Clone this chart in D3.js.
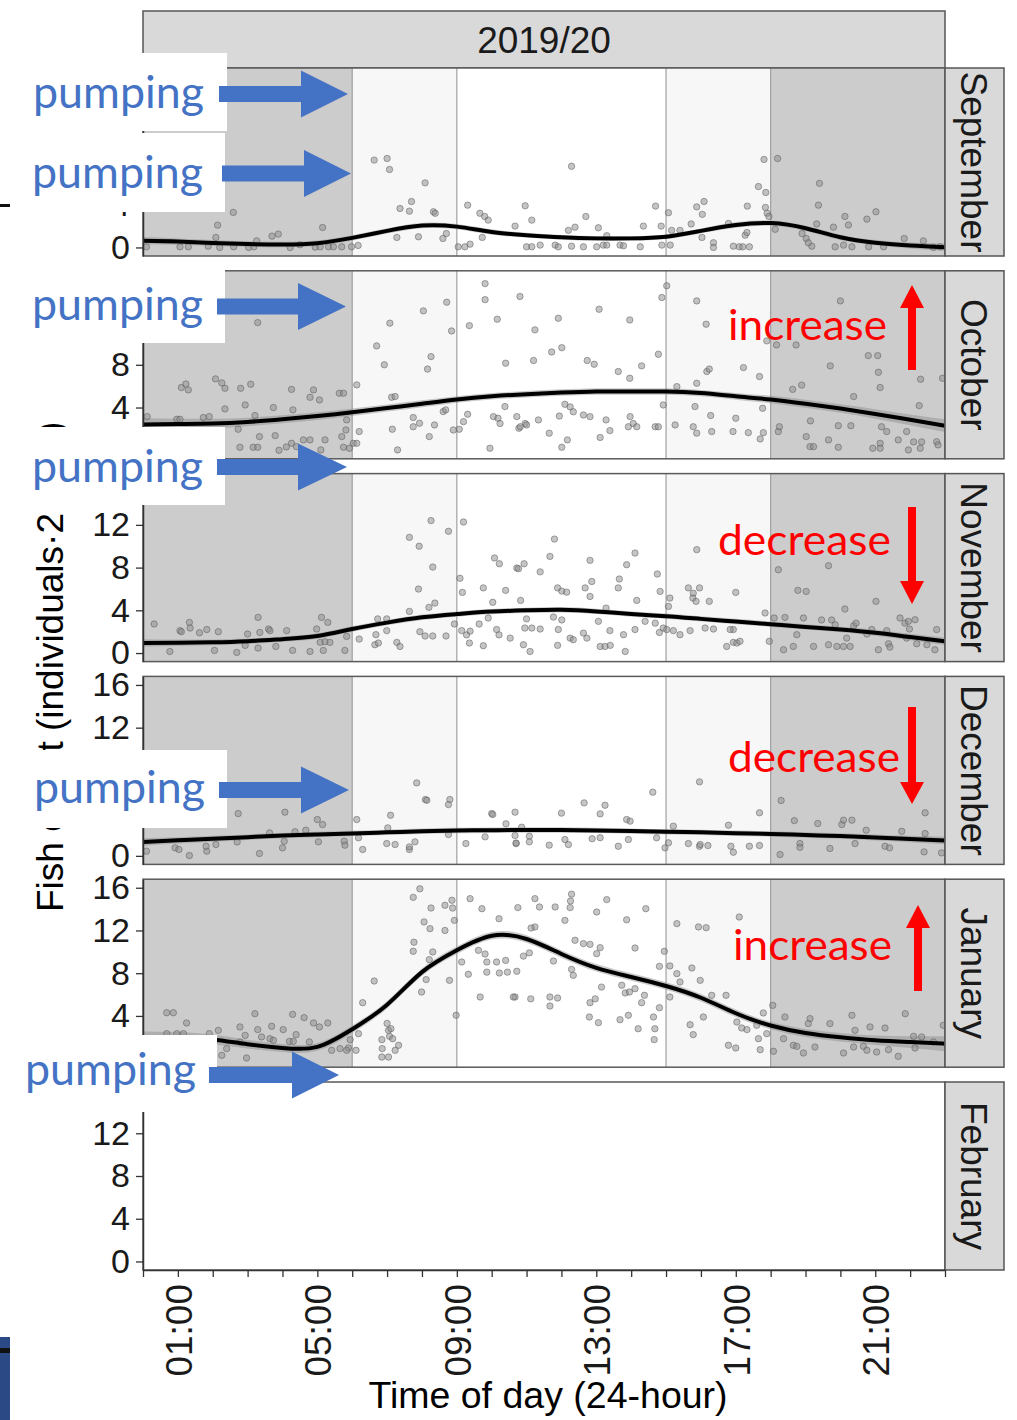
<!DOCTYPE html>
<html><head><meta charset="utf-8">
<script src="https://cdn.jsdelivr.net/npm/d3@7"></script>
<style>body{margin:0;background:#fff;} svg{display:block;}</style>
</head><body>
<svg id="c" width="1017" height="1420"></svg>
<script>
// ---------------- DATA ----------------
const months = ["September","October","November","December","January","February"];
const stripTitle = "2019/20";
const fitHours = d3.range(0, 24);
const xTickHours = d3.range(0, 24);
const xLabelHours = [1,5,9,13,17,21];
const yTicks = [0,4,8,12,16];
const periodBounds = [[0,6],[6,9],[9,15],[15,18],[18,23]];
const periodShade = ["#cccccc","#f7f7f7","#ffffff","#f7f7f7","#cccccc"];
const periodLines = [6,9,15,18];

const fitSep = [0.62,0.55,0.42,0.32,0.28,0.4,0.9,1.55,2.05,1.95,1.45,1.15,0.95,0.85,0.85,1.0,1.55,2.1,2.28,1.8,0.95,0.45,0.18,0.02];
const fitOct = [2.4,2.45,2.5,2.65,2.9,3.2,3.55,3.95,4.35,4.75,5.05,5.25,5.4,5.5,5.5,5.5,5.35,5.05,4.75,4.35,3.9,3.4,2.85,2.3];
const fitNov = [0.95,0.97,1.0,1.1,1.3,1.6,2.25,2.85,3.35,3.65,3.88,4.0,4.05,3.9,3.65,3.45,3.2,2.95,2.7,2.45,2.2,1.9,1.5,1.1];
const fitDec = [1.3,1.45,1.6,1.75,1.9,2.0,2.1,2.2,2.3,2.37,2.4,2.42,2.42,2.38,2.32,2.25,2.2,2.12,2.05,1.95,1.85,1.72,1.58,1.44];
const fitJan = [1.95,2.0,1.8,1.35,1.0,1.1,2.75,5.05,8.1,10.15,11.5,11.2,9.8,8.5,7.65,6.8,5.7,4.25,3.1,2.4,2.0,1.72,1.55,1.4];

const seSep = [0.35,0.3,0.28,0.26,0.25,0.25,0.25,0.25,0.25,0.25,0.25,0.22,0.22,0.22,0.22,0.22,0.22,0.25,0.25,0.25,0.25,0.25,0.28,0.35];
const seOct = [0.6,0.5,0.45,0.4,0.38,0.36,0.35,0.33,0.32,0.3,0.3,0.3,0.3,0.3,0.3,0.3,0.3,0.32,0.35,0.38,0.4,0.45,0.5,0.6];
const seNov = [0.35,0.3,0.28,0.26,0.25,0.25,0.25,0.25,0.25,0.25,0.25,0.25,0.25,0.25,0.25,0.25,0.25,0.25,0.25,0.25,0.26,0.28,0.3,0.35];
const seDec = [0.35,0.3,0.28,0.26,0.25,0.25,0.25,0.25,0.25,0.25,0.25,0.25,0.25,0.25,0.25,0.25,0.25,0.25,0.25,0.25,0.26,0.28,0.3,0.35];
const seJan = [0.6,0.5,0.45,0.4,0.38,0.36,0.35,0.35,0.35,0.35,0.35,0.35,0.35,0.35,0.35,0.35,0.35,0.35,0.35,0.38,0.4,0.45,0.55,0.7];

const ptsSep = [[0.1,0.06],[1.06,0.06],[1.3,0.06],[1.87,0.12],[2.14,2.09],[2.09,0.94],[2.2,0],[2.59,3.28],[2.6,0.06],[3.03,0],[3.26,0.62],[3.18,0.06],[3.7,1.06],[3.88,1.25],[4.22,0],[4.5,0.25],[4.94,0.03],[5.15,1.87],[5.08,0.06],[5.32,0.06],[5.46,0.06],[5.7,0.06],[5.98,0.06],[6.17,0.19],[6.63,8.18],[7.0,8.33],[7.07,7.3],[8.09,6.05],[7.7,4.3],[7.37,3.65],[7.64,3.4],[8.33,3.34],[8.38,3.2],[7.28,0.94],[7.9,1.0],[8.6,0.84],[8.7,1.3],[9.04,0.06],[9.23,0.06],[9.38,0.31],[9.31,3.96],[9.66,3.2],[9.8,2.9],[9.9,2.56],[9.73,0.94],[10.67,2.0],[10.96,3.9],[11.15,2.56],[11.0,0.06],[11.15,0.06],[11.39,0.22],[11.82,0.22],[11.91,0.06],[12.29,0.12],[12.63,0.06],[13.01,0.06],[13.2,0.22],[13.3,0.22],[13.68,0.22],[13.78,0.16],[14.26,0.06],[14.88,0.22],[15.12,0.22],[12.29,7.6],[12.2,1.6],[12.39,1.9],[12.7,2.9],[13.06,1.84],[13.3,1.1],[14.35,2.0],[14.7,3.87],[14.86,2.0],[15.07,3.25],[15.16,1.6],[15.4,1.6],[15.72,2.2],[15.88,3.8],[16.09,4.3],[16.04,3.1],[16.03,0.94],[16.36,0.44],[16.36,0],[17.1,0.06],[17.2,0.06],[17.39,0.06],[16.93,0.12],[16.79,2.25],[17.33,3.87],[17.27,1.15],[17.32,1.4],[17.65,5.7],[17.86,5.15],[17.81,8.24],[18.2,8.33],[17.85,3.75],[17.9,3.2],[17.95,2.9],[18.13,1.7],[19.4,6.0],[19.37,3.96],[19.32,2.2],[18.9,1.3],[19.02,0.84],[19.18,0.12],[19.08,0.44],[19.8,1.9],[20.13,2.9],[20.23,2.1],[19.85,0.06],[20.09,0.22],[20.33,0.06],[20.76,2.65],[21.02,3.34],[20.81,0.06],[21.24,0.06],[21.83,0.84],[22.38,0.62],[22.67,0],[22.86,0.06]];

const ptsOct = [[0.12,3.15],[0.97,2.9],[1.06,2.9],[1.73,3.06],[1.9,3.15],[1.1,5.87],[1.23,6.2],[1.3,5.65],[2.08,6.68],[2.26,6.3],[2.35,5.8],[2.35,3.87],[2.8,5.8],[3.09,6.18],[2.93,4.24],[3.21,3.25],[3.29,11.95],[2.73,1.97],[3.34,1.28],[2.78,0.28],[3.16,0.28],[3.29,0.28],[3.74,4.0],[3.79,1.37],[3.9,0],[4.11,0.31],[4.26,0.65],[4.4,0.34],[4.26,5.7],[4.3,3.78],[4.79,4.96],[4.89,5.65],[5.06,4.71],[4.6,0.97],[4.79,0.97],[5.22,0.97],[5.1,0.03],[5.63,5.34],[5.75,5.34],[5.7,1.28],[5.82,1.9],[5.84,2.84],[5.75,0.28],[5.92,0.19],[6.03,0.65],[6.13,6.12],[6.2,1.75],[6.13,0.65],[6.7,9.77],[6.92,8.0],[7.08,11.9],[7.13,4.96],[7.23,5.03],[7.15,1.97],[7.3,0.03],[7.75,3.06],[7.93,2.53],[7.75,2.2],[8.04,13.05],[8.16,7.6],[8.26,8.77],[8.21,1.28],[8.36,2.37],[8.71,13.86],[8.61,3.62],[8.68,3.78],[8.85,11.17],[8.9,1.9],[9.07,1.97],[9.19,2.68],[9.31,3.37],[9.36,11.67],[9.81,15.6],[9.81,14.1],[9.95,0.19],[10.05,3.15],[10.18,3.0],[10.24,2.5],[10.16,12.27],[10.4,8.15],[10.38,4.09],[10.72,3.15],[10.78,2.06],[10.81,14.4],[10.82,2.2],[10.96,2.5],[11.0,2.37],[11.24,11.27],[11.2,8.4],[11.34,2.84],[11.65,1.6],[11.72,9.2],[12.01,9.6],[11.91,12.36],[11.94,3.2],[12.01,0.28],[12.17,0.97],[12.1,4.3],[12.25,4.06],[12.34,3.6],[12.63,3.3],[12.82,3.15],[12.74,8.4],[12.94,8.05],[13.08,13.2],[13.11,1.2],[13.28,2.84],[13.39,1.84],[13.63,7.37],[13.92,2.2],[14.06,2.5],[14.16,2.2],[13.97,3.15],[13.96,12.2],[13.96,6.74],[14.3,7.9],[14.78,8.99],[14.69,2.2],[14.78,2.2],[14.92,4.24],[14.88,14.3],[15.02,15.4],[15.26,2.37],[15.31,5.96],[15.83,4.09],[15.88,6.27],[15.78,2.2],[15.88,1.6],[15.88,13.98],[16.15,11.8],[16.17,7.37],[16.24,7.6],[16.28,3.25],[16.31,1.75],[16.92,1.75],[17.0,3.0],[17.36,1.65],[17.22,7.74],[17.68,6.9],[17.7,1.06],[17.77,3.93],[17.79,1.65],[17.89,10.24],[18.22,1.75],[18.17,9.86],[18.25,2.2],[18.63,5.7],[18.89,6.1],[18.73,9.86],[19.02,1.28],[19.13,0.34],[19.23,0.34],[19.14,2.75],[19.66,0.97],[19.94,0.28],[19.71,7.9],[19.94,2.3],[20.3,2.3],[20.0,13.98],[20.38,5.03],[20.8,8.86],[21.07,8.86],[21.09,7.3],[21.14,5.87],[21.18,2.2],[21.33,1.75],[21.14,0.65],[20.93,0.19],[21.14,0.19],[21.66,0.97],[21.9,1.75],[21.95,0.03],[22.1,0.78],[22.33,0.78],[22.29,0.19],[22.3,6.65],[22.26,4.18],[22.76,0.8],[22.8,0.5],[22.93,6.74]];

const ptsNov = [[0.32,2.72],[0.77,0.15],[1.06,2.1],[1.1,2.0],[1.33,2.87],[1.35,2.34],[1.62,1.9],[1.83,2.2],[2.16,2.0],[2.05,0.25],[2.69,0.06],[3.0,1.78],[3.3,3.34],[3.35,1.93],[2.93,0.72],[3.3,0.47],[3.6,2.25],[3.64,2.1],[3.81,0.62],[4.12,2.1],[4.29,0.25],[4.79,0.15],[4.98,2.25],[5.12,3.34],[5.3,2.87],[5.08,1.0],[5.22,1.06],[5.36,1.0],[5.17,0.25],[5.79,0.25],[5.84,1.56],[6.2,1.31],[6.65,0.78],[6.75,0.94],[6.68,1.72],[6.73,3.2],[6.99,3.2],[6.99,2.1],[7.28,1.0],[7.37,0.62],[7.64,10.83],[7.64,3.9],[7.9,5.99],[7.92,10.0],[7.94,2.0],[8.09,1.6],[8.31,1.6],[8.26,12.4],[8.31,8.05],[8.2,4.28],[8.37,4.68],[8.69,1.6],[8.76,11.4],[8.93,2.72],[9.09,7.0],[9.16,5.68],[9.19,12.27],[9.14,2.1],[9.28,1.7],[9.38,2.05],[9.36,0.94],[9.76,0.69],[9.64,2.72],[9.76,6.1],[9.9,3.28],[10.03,4.75],[10.08,8.9],[10.22,8.36],[10.14,2.2],[10.21,1.7],[10.4,5.87],[10.53,1.4],[10.72,7.96],[10.77,7.9],[10.93,8.36],[10.83,4.93],[11.0,3.2],[10.95,2.34],[11.15,2.34],[11.39,2.25],[10.91,0.78],[11.1,0.15],[11.39,7.6],[11.67,9.05],[11.8,10.67],[11.77,3.37],[11.89,6.1],[12.01,5.8],[12.15,5.7],[11.91,2.2],[12.01,3.1],[11.89,0.72],[12.25,1.4],[12.34,1.25],[12.68,6.1],[12.87,6.7],[12.82,5.3],[12.82,8.68],[12.63,1.87],[12.73,1.4],[13.11,0.62],[13.25,0.62],[13.4,0.72],[13.06,2.97],[13.28,4.21],[13.39,2.1],[13.63,6.1],[13.66,6.93],[13.78,1.72],[13.83,0.15],[13.87,8.27],[14.11,9.36],[14.11,2.2],[14.16,4.93],[14.4,2.97],[14.69,2.8],[14.81,1.93],[14.75,7.4],[14.83,5.77],[15.07,4.37],[15.11,5.15],[14.92,2.34],[15.02,2.2],[15.21,2.1],[15.4,1.72],[15.64,6.1],[15.78,5.6],[15.96,6.1],[15.77,5.15],[15.86,4.84],[15.88,9.68],[15.69,2.1],[16.12,2.34],[16.36,2.25],[16.24,4.84],[16.74,0.62],[16.93,1.0],[17.03,0.94],[17.0,5.68],[16.93,2.2],[16.84,2.2],[17.12,1.1],[17.84,3.75],[17.96,1.1],[18.1,3.28],[18.41,3.34],[18.22,7.8],[18.37,0.31],[18.65,0.62],[18.75,1.72],[18.94,3.28],[18.78,5.87],[19.02,5.77],[19.23,0.62],[19.66,0.78],[19.46,3.1],[19.75,3.1],[19.85,2.65],[19.66,8.18],[20.13,4.12],[20.18,1.4],[20.38,2.56],[20.45,2.8],[19.9,0.62],[20.09,0.62],[20.28,0.62],[20.76,1.78],[20.9,2.2],[21.02,4.84],[21.09,0.31],[21.33,2.1],[21.38,0.87],[21.42,0.56],[21.71,3.28],[21.85,2.81],[21.95,2.97],[22.14,3.12],[21.9,1.4],[22.19,0.87],[21.98,2.25],[22.48,0.78],[22.76,2.2],[22.71,0.31]];

const ptsDec = [[0.1,0.44],[0.92,0.75],[1.03,0.6],[1.33,0.03],[1.83,0.44],[1.81,0.9],[2.09,1.06],[2.73,3.96],[2.7,1.3],[3.34,0.22],[3.63,2.15],[4.0,0.75],[4.05,1.37],[4.07,4.09],[4.36,2.25],[4.67,2.4],[5.0,3.4],[5.15,2.93],[5.03,1.31],[5.77,1.37],[5.79,1.0],[6.13,3.4],[6.18,1.69],[6.3,0.6],[6.99,1.15],[7.23,1.06],[7.02,2.62],[7.1,3.8],[7.64,0.6],[7.64,0.84],[7.8,1.31],[7.85,6.83],[8.1,5.27],[8.14,5.2],[8.8,5.27],[8.76,4.8],[8.76,2.0],[9.26,1.15],[9.81,1.78],[10.0,3.96],[10.03,3.87],[10.41,3.0],[10.67,4.09],[10.7,1.15],[10.86,2.68],[10.67,1.9],[10.7,1.2],[11.08,1.84],[11.08,1.31],[12.0,4.0],[11.65,1.0],[12.1,1.53],[12.2,1.06],[12.65,4.96],[12.88,1.6],[13.11,1.7],[13.11,3.93],[13.25,4.74],[13.63,0.9],[13.87,3.4],[13.97,3.25],[13.92,1.53],[14.62,5.96],[14.73,1.69],[14.97,0.75],[15.07,1.22],[15.21,2.78],[15.64,1.15],[15.96,0.9],[15.98,1.06],[16.2,0.97],[15.96,6.93],[16.79,2.87],[16.86,0.9],[16.93,0.34],[17.39,0.9],[17.68,0.97],[17.68,4.03],[18.3,5.18],[18.27,0.12],[18.68,3.3],[18.84,1.15],[18.84,0.8],[19.35,3.03],[19.7,0.69],[20.04,2.93],[20.09,3.34],[20.33,3.34],[20.42,1.15],[20.74,2.4],[21.28,0.9],[21.41,0.75],[21.76,2.3],[22.43,4.03],[22.43,2.09],[22.4,0.37],[22.9,0.28]];

const ptsJan = [[0.68,4.3],[0.87,4.3],[1.25,3.34],[0.68,2.34],[0.97,2.34],[1.16,2.34],[1.9,2.34],[2.16,2.65],[3.21,4.21],[2.78,2.97],[2.93,2.18],[2.78,1.56],[2.26,0.31],[2.4,0.94],[2.97,0.06],[3.29,2.72],[3.4,2.03],[3.64,1.87],[3.69,3.03],[3.74,1.72],[4.02,2.72],[4.29,4.15],[4.39,2.25],[4.2,1.62],[4.31,1.62],[4.62,3.84],[4.89,3.34],[5.06,2.97],[5.3,3.34],[4.77,1.56],[5.41,0.78],[5.65,0.94],[5.89,1.0],[5.84,0.78],[5.94,1.78],[6.18,2.34],[6.11,0.78],[6.3,5.24],[6.63,7.27],[6.85,1.78],[7.04,2.65],[7.11,2.81],[7.07,2.09],[7.16,1.87],[7.33,1.25],[7.23,0.78],[6.86,0.94],[7.0,3.3],[6.85,0.15],[7.04,0.15],[7.75,15.1],[7.94,15.9],[7.77,10.9],[7.75,10.05],[7.99,6.24],[8.12,7.4],[8.06,12.8],[8.21,9.27],[8.23,12.17],[8.26,14.1],[8.31,9.99],[8.66,14.36],[8.86,14.83],[8.88,14.1],[8.66,12.0],[8.93,12.95],[8.79,7.33],[8.98,4.06],[9.14,9.05],[9.33,7.9],[9.38,14.98],[9.62,10.14],[9.67,5.77],[9.72,14.04],[9.81,9.8],[9.86,9.05],[9.86,8.1],[10.14,9.05],[10.22,8.02],[10.21,13.1],[10.4,9.2],[10.45,8.1],[10.67,5.77],[10.75,14.14],[11.24,14.98],[11.37,14.2],[11.82,14.2],[12.29,15.4],[12.26,14.76],[12.25,14.14],[11.24,12.33],[11.13,12.23],[10.91,9.6],[11.08,9.9],[10.72,8.18],[11.77,9.14],[12.1,12.95],[12.29,8.36],[12.34,7.8],[12.39,11.08],[12.63,10.77],[12.82,10.7],[13.01,9.83],[13.11,10.39],[13.01,13.73],[13.3,14.89],[10.62,5.77],[11.12,5.6],[11.67,5.77],[11.89,5.68],[11.67,4.93],[12.82,5.24],[12.97,5.6],[12.8,3.9],[13.06,3.37],[13.15,6.7],[13.73,6.87],[13.83,6.15],[13.95,6.24],[14.11,10.36],[14.11,6.55],[14.38,5.93],[14.3,5.24],[13.68,3.65],[13.92,4.06],[13.87,13.0],[14.42,14.04],[14.2,2.8],[14.68,2.8],[14.66,1.78],[14.64,3.9],[14.81,8.64],[14.95,10.05],[14.81,4.77],[15.11,5.77],[15.11,8.68],[15.31,12.64],[15.31,7.96],[15.4,7.18],[15.93,12.33],[16.15,12.26],[15.74,8.49],[15.98,7.33],[15.69,3.18],[15.78,2.25],[16.31,5.93],[16.72,5.93],[16.07,3.9],[17.1,13.26],[16.79,1.25],[17.0,1.0],[17.03,3.43],[17.17,2.87],[17.32,2.72],[17.6,3.12],[17.79,4.28],[17.65,1.87],[17.7,0.84],[17.89,2.34],[18.08,0.69],[18.06,4.99],[18.37,1.87],[18.41,3.9],[18.65,1.25],[18.75,1.15],[18.94,0.53],[19.13,3.75],[19.08,3.28],[19.27,1.09],[19.7,3.28],[20.09,0.53],[20.38,1.09],[20.42,2.65],[20.33,4.06],[20.66,1.15],[20.76,0.78],[20.85,2.97],[21.04,0.62],[21.28,2.87],[21.38,0.84],[21.66,0.22],[21.86,4.21],[22.1,2.09],[22.14,1.0],[22.33,2.03],[22.67,1.56],[22.95,3.12]];

const ptsFeb = [];

// annotation texts
const pumpingLabel = "pumping";
const changeLabels = ["increase","decrease","decrease","increase"];

// ---------------- LAYOUT ----------------
const svg = d3.select("#c");
const X0 = 143, X1 = 945, STRIP_R = 1004, PT = 68, PSTEP = 202.8, PH = 188;
const FONT = "'Liberation Sans', Arial, Helvetica, sans-serif";
const x = d3.scaleLinear().domain([0, 23]).range([X0, X1]);

const fits = [fitSep, fitOct, fitNov, fitDec, fitJan, null];
const ses = [seSep, seOct, seNov, seDec, seJan, null];
const pts = [ptsSep, ptsOct, ptsNov, ptsDec, ptsJan, ptsFeb];

// slide artefacts at the left edge
svg.append("rect").attr("x",0).attr("y",204).attr("width",10).attr("height",3).attr("fill","#111");
svg.append("rect").attr("x",0).attr("y",1337).attr("width",10).attr("height",83).attr("fill","#2b4a85");
svg.append("rect").attr("x",0).attr("y",1348).attr("width",10).attr("height",5).attr("fill","#111");

// top strip
svg.append("rect").attr("x",X0).attr("y",11).attr("width",X1-X0).attr("height",PT-11)
  .attr("fill","#d9d9d9").attr("stroke","#555").attr("stroke-width",1.5);
svg.append("text").attr("x",(X0+X1)/2).attr("y",53).attr("text-anchor","middle")
  .style("font-family",FONT).style("font-size","37px").attr("fill","#1a1a1a").text(stripTitle);

months.forEach((m, i) => {
  const top = PT + i*PSTEP;
  const y = d3.scaleLinear().domain([-0.8, 16.8]).range([top+PH, top]);
  const g = svg.append("g");
  const data = pts[i];
  if (data.length) {
    g.selectAll("rect.sh").data(periodBounds).join("rect").attr("class","sh")
      .attr("x", d => x(d[0])).attr("width", d => x(d[1]) - x(d[0]))
      .attr("y", top).attr("height", PH).attr("fill", (d,j) => periodShade[j]);
    g.selectAll("line.v").data(periodLines).join("line").attr("class","v")
      .attr("x1", d => x(d)).attr("x2", d => x(d)).attr("y1", top).attr("y2", top+PH)
      .attr("stroke","#a0a0a0").attr("stroke-width",1.2);
    const fit = fits[i], se = ses[i];
    const band = d3.area().curve(d3.curveNatural)
      .x((d,j) => x(fitHours[j])).y0((d,j) => y(fit[j]-se[j])).y1((d,j) => y(fit[j]+se[j]));
    g.append("path").attr("d", band(fit)).attr("fill","#8a8a8a").attr("fill-opacity",0.45);
    g.selectAll("circle").data(data).join("circle")
      .attr("cx", d => x(d[0])).attr("cy", d => y(d[1])).attr("r", 3.2)
      .attr("fill","#8c8c8c").attr("fill-opacity",0.5)
      .attr("stroke","#555").attr("stroke-opacity",0.55).attr("stroke-width",0.9);
    const line = d3.line().curve(d3.curveNatural).x((d,j) => x(fitHours[j])).y(d => y(d));
    g.append("path").attr("d", line(fit)).attr("fill","none").attr("stroke","#000").attr("stroke-width",4);
  }
  // border
  g.append("rect").attr("x",X0).attr("y",top).attr("width",X1-X0).attr("height",PH)
    .attr("fill","none").attr("stroke","#5a5a5a").attr("stroke-width",1.5);
  // right strip
  g.append("rect").attr("x",X1).attr("y",top).attr("width",STRIP_R-X1).attr("height",PH)
    .attr("fill","#d9d9d9").attr("stroke","#555").attr("stroke-width",1.5);
  g.append("text").attr("transform",`translate(${(X1+STRIP_R)/2},${top+PH/2}) rotate(90)`)
    .attr("text-anchor","middle").attr("dy","0.36em")
    .style("font-family",FONT).style("font-size","37px").attr("fill","#1a1a1a").text(m);
  // y axis
  const ay = svg.append("g").attr("transform",`translate(${X0},0)`)
    .call(d3.axisLeft(y).tickValues(yTicks).tickSize(7).tickSizeOuter(0).tickPadding(6));
  ay.select(".domain").attr("stroke","#333").attr("stroke-width",1.5);
  ay.selectAll(".tick line").attr("stroke","#333").attr("stroke-width",1.3);
  ay.selectAll(".tick text").style("font-family",FONT).style("font-size","34px").attr("fill","#1a1a1a");
});

// x axis under the last panel
const bottomY = PT + 5*PSTEP + PH;
const ax = svg.append("g").attr("transform",`translate(0,${bottomY})`)
  .call(d3.axisBottom(x).tickValues(xTickHours).tickSize(7).tickSizeOuter(0)
    .tickFormat(h => xLabelHours.includes(h) ? d3.format("02d")(h) + ":00" : ""));
ax.select(".domain").attr("stroke","#333").attr("stroke-width",1.5);
ax.selectAll(".tick line").attr("stroke","#333").attr("stroke-width",1.3);
ax.selectAll(".tick text").attr("transform","rotate(-90)").attr("x",-14).attr("y",0).attr("dy","0.36em")
  .style("text-anchor","end").style("font-family",FONT).style("font-size","37px").attr("fill","#1a1a1a");

// axis titles
svg.append("text").attr("x",548).attr("y",1408).attr("text-anchor","middle")
  .style("font-family",FONT).style("font-size","37.5px").attr("fill","#000").text("Time of day (24-hour)");
const yt = svg.append("text").attr("transform","translate(63,912) rotate(-90)")
  .style("font-family",FONT).style("font-size","37px").attr("fill","#000");
yt.append("tspan").text("Fish count (individuals·2 min");
yt.append("tspan").attr("baseline-shift","super").style("font-size","8px").text("−1");
yt.append("tspan").text(")");

// ---------------- OVERLAYS (slide annotations) ----------------
const BLUE = "#4472C4", RED = "#FF0000";
const pumpBoxes = [
  {bx:33, by:53,  bw:194, bh:78, tx:33, ty:108, sx0:219, hx:301, tip:348, cy:94},
  {bx:30, by:133, bw:195, bh:79, tx:32, ty:188, sx0:222, hx:304, tip:351, cy:173.5},
  {bx:30, by:266, bw:195, bh:77, tx:32, ty:320, sx0:217, hx:298, tip:346, cy:306.5},
  {bx:30, by:427, bw:195, bh:78, tx:32, ty:482, sx0:217, hx:298, tip:347, cy:467},
  {bx:33, by:750, bw:194, bh:78, tx:34, ty:803, sx0:219, hx:301, tip:349, cy:790},
  {bx:20, by:1035,bw:197, bh:77, tx:25, ty:1085,sx0:209, hx:292, tip:339, cy:1075}
];
pumpBoxes.forEach(b => {
  svg.append("rect").attr("x",b.bx).attr("y",b.by).attr("width",b.bw).attr("height",b.bh).attr("fill","#fff");
  svg.append("text").attr("x",b.tx).attr("y",b.ty).attr("textLength",171).attr("lengthAdjust","spacingAndGlyphs")
    .style("font-family","Lato, 'Open Sans', sans-serif").style("font-size","45px").attr("fill",BLUE).text(pumpingLabel);
  const p = d3.path();
  p.moveTo(b.sx0, b.cy-8); p.lineTo(b.hx, b.cy-8); p.lineTo(b.hx, b.cy-23.5); p.lineTo(b.tip, b.cy);
  p.lineTo(b.hx, b.cy+23.5); p.lineTo(b.hx, b.cy+8); p.lineTo(b.sx0, b.cy+8); p.closePath();
  svg.append("path").attr("d", p.toString()).attr("fill",BLUE);
});

const changeNotes = [
  {tx:728, ty:340, tw:159, ax:912, a0:370, hb:308, tip:285},
  {tx:718, ty:555, tw:173, ax:912, a0:507, hb:581, tip:604},
  {tx:728, ty:772, tw:172, ax:912, a0:707, hb:782, tip:804},
  {tx:733, ty:960, tw:159, ax:918, a0:991, hb:928, tip:905}
];
changeNotes.forEach((c, k) => {
  svg.append("text").attr("x",c.tx).attr("y",c.ty).attr("textLength",c.tw).attr("lengthAdjust","spacingAndGlyphs")
    .style("font-family","Lato, 'Open Sans', sans-serif").style("font-size","42px").attr("fill",RED).text(changeLabels[k]);
  const p = d3.path();
  p.moveTo(c.ax-4, c.a0); p.lineTo(c.ax-4, c.hb); p.lineTo(c.ax-12, c.hb); p.lineTo(c.ax, c.tip);
  p.lineTo(c.ax+12, c.hb); p.lineTo(c.ax+4, c.hb); p.lineTo(c.ax+4, c.a0); p.closePath();
  svg.append("path").attr("d", p.toString()).attr("fill",RED);
});
</script>
</body></html>
